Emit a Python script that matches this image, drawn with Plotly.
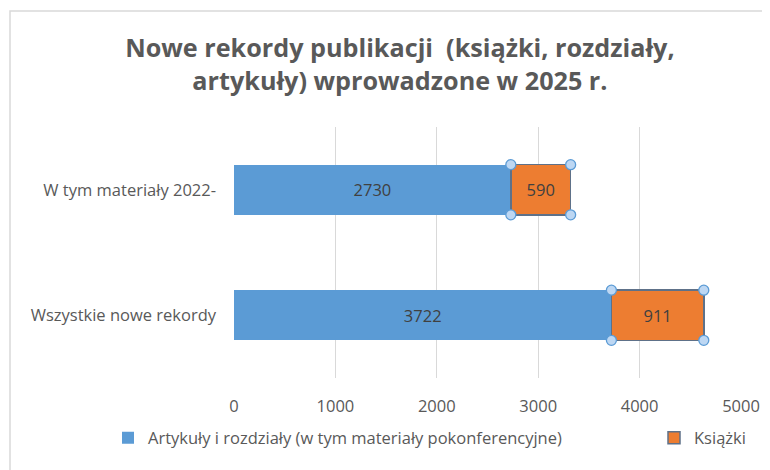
import plotly.graph_objects as go

categories = ["Wszystkie nowe rekordy", "W tym materiały 2022-"]
artykuly = [3722, 2730]
ksiazki = [911, 590]
series_names = ["Artykuły i rozdziały (w tym materiały pokonferencyjne)", "Książki"]
x_ticks = [0, 1000, 2000, 3000, 4000, 5000]

FONT = "Open Sans"
FS = 16.5
BAR_W = 0.4
ypos = list(range(len(categories)))

# page body has an 8px margin; layout numbers are set so the picture lands on the window
L, R, T, B = 226, 37, 119, 100
PW, PH = 770 - L - R, 470 - T - B

fig = go.Figure()
fig.add_trace(go.Bar(
    y=ypos, x=artykuly, orientation="h", name=series_names[0], legend="legend",
    marker=dict(color="#5B9BD5", line=dict(width=0)), width=BAR_W,
    text=artykuly, textposition="inside", insidetextanchor="middle",
    textfont=dict(family=FONT, size=FS, color="#404040"),
))
fig.add_trace(go.Bar(
    y=ypos, x=ksiazki, orientation="h", name=series_names[1], legend="legend2",
    marker=dict(color="#ED7D31", line=dict(width=1.5, color="#5E7189")), width=BAR_W,
    text=ksiazki, textposition="inside", insidetextanchor="middle",
    textfont=dict(family=FONT, size=FS, color="#404040"),
))

# selection handles at the corners of the orange bars (derived from data)
hx, hy = [], []
for i, (a, k) in enumerate(zip(artykuly, ksiazki)):
    for xv in (a, a + k):
        for dy in (-BAR_W / 2, BAR_W / 2):
            hx.append(xv)
            hy.append(i + dy)
fig.add_trace(go.Scatter(
    x=hx, y=hy, mode="markers", showlegend=False, hoverinfo="skip",
    marker=dict(size=10, color="#BDD7F3", line=dict(width=1.3, color="#5B9BD5")),
))

legend_common = dict(
    orientation="h", xref="container", yref="container",
    xanchor="left", y=0.085, yanchor="middle",
    font=dict(family=FONT, size=FS, color="#595959"),
    itemwidth=30, bgcolor="rgba(0,0,0,0)",
)

fig.update_layout(
    width=770, height=470,
    barmode="stack",
    plot_bgcolor="white", paper_bgcolor="white",
    margin=dict(l=L, r=R, t=T, b=B),
    title=dict(
        text="Nowe rekordy publikacji  (książki, rozdziały,<br>artykuły) wprowadzone w 2025 r.",
        x=0.509, xanchor="center", y=0.896, yanchor="middle",
        font=dict(family=FONT, size=25.2, color="#595959", weight="bold"),
    ),
    xaxis=dict(
        range=[0, 5000], tickvals=x_ticks, showgrid=True, gridcolor="#D9D9D9",
        gridwidth=1, zeroline=False, showline=False, automargin=False,
        tickfont=dict(family=FONT, size=FS, color="#595959"),
        ticklabelstandoff=16, fixedrange=True,
    ),
    yaxis=dict(
        range=[-0.5, 1.5], tickvals=ypos, ticktext=categories, showgrid=False,
        zeroline=False, showline=False, automargin=False,
        tickfont=dict(family=FONT, size=FS, color="#595959"),
        ticklabelstandoff=17, fixedrange=True,
    ),
    legend=dict(x=100 / 770, **legend_common),
    legend2=dict(x=646 / 770, **legend_common),
    shapes=[dict(
        type="rect", xref="paper", yref="paper",
        x0=(2 - L) / PW, x1=(780 - L) / PW,
        y0=(470 - B - 480) / PH, y1=(470 - B - 3) / PH,
        line=dict(color="#D9D9D9", width=1.5), fillcolor="rgba(0,0,0,0)", layer="below",
    )],
)

fig.write_html("out.html")
